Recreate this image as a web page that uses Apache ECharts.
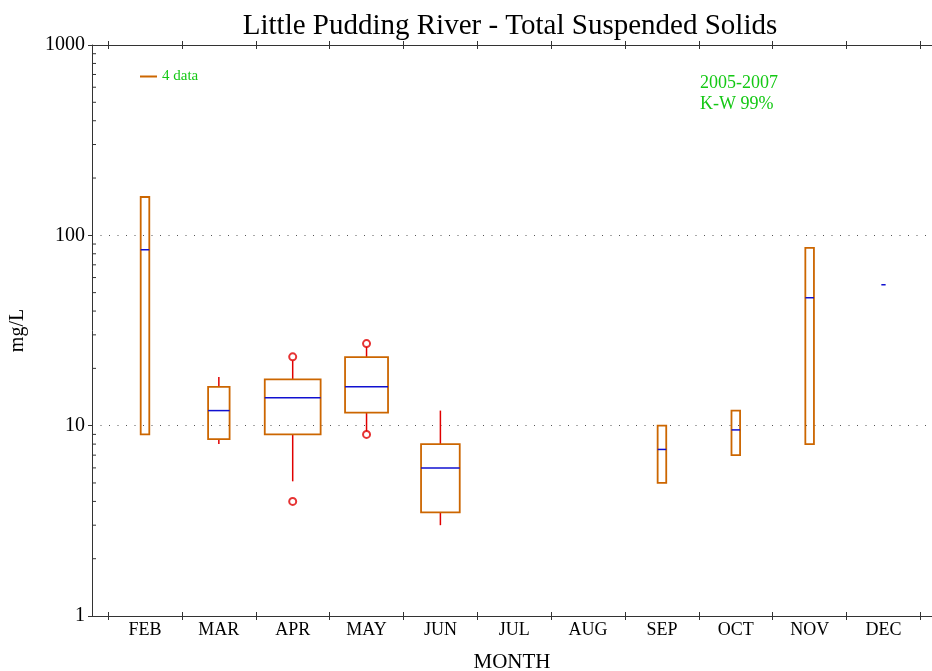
<!DOCTYPE html>
<html>
<head>
<meta charset="utf-8">
<script src="https://cdn.jsdelivr.net/npm/echarts@6/dist/echarts.min.js"></script>
<style>
html,body{margin:0;padding:0;background:#fff;}
#chart{width:932px;height:671px;}
</style>
</head>
<body>
<div id="chart"></div>
<script>
// ---- data ----
const months = ['FEB','MAR','APR','MAY','JUN','JUL','AUG','SEP','OCT','NOV','DEC'];
const counts = [2, 5, 13, 10, 9, 0, 0, 2, 2, 2, 1];
const lowWhisker  = [9,   8,   5.1, 9.3,  3,   null, null, 5,   7,   8,  55];
const q1Values    = [9,   8.5, 9,   11.7, 3.5, null, null, 5,   7,   8,  55];
const medianVals  = [84,  12,  14,  16,   6,   null, null, 7.5, 9.5, 47, 55];
const q3Values    = [159, 16,  17.5,22.9, 8,   null, null, 10,  12,  86, 55];
const highWhisker = [159, 18,  22,  26,   12,  null, null, 10,  12,  86, 55];
const outlierMonths = ['APR', 'APR', 'MAY', 'MAY'];
const outlierValues = [23, 4, 27, 9];
const yMinorTicks = [2,3,4,5,6,7,8,9,20,30,40,50,60,70,80,90,200,300,400,500,600,700,800,900];
const legendLabel = '4 data';
const titleText = 'Little Pudding River - Total Suspended Solids';
const noteLines = ['2005-2007', 'K-W 99%'];

// ---- styles ----
const SERIF = "'Liberation Serif','Times New Roman',serif";
const BOX = '#cc6600', WHISK = '#e00000', MED = '#1010d0', GREEN = '#14c814', AX = '#333';
const PER_COUNT = 0.0582;   // box width per data value, in month units
const X0 = 2;               // FEB position on the x scale
const xMin = 1.2823, xMax = 12.657;

const boxData = [];
months.forEach((m, i) => {
  if (counts[i] > 0) boxData.push([X0 + i, lowWhisker[i], q1Values[i], medianVals[i], q3Values[i], highWhisker[i], counts[i]]);
});
const outData = outlierMonths.map((m, k) => [X0 + months.indexOf(m), outlierValues[k]]);
const minorData = yMinorTicks.map(v => [xMin, v]);
const labelPos = months.map((m, i) => X0 + i);
const tickPos = months.map((m, i) => X0 + i - 0.5).concat([X0 + months.length - 0.5]);

function renderBox(params, api) {
  const x = api.value(0), lo = api.value(1), q1 = api.value(2), med = api.value(3),
        q3 = api.value(4), hi = api.value(5), n = api.value(6);
  const hw = n * PER_COUNT / 2;
  const children = [];
  const pQ1 = api.coord([x, q1]), pQ3 = api.coord([x, q3]);
  if (hi > q3) {
    const p = api.coord([x, hi]);
    children.push({type: 'line', shape: {x1: pQ3[0], y1: pQ3[1], x2: p[0], y2: p[1]}, style: {stroke: WHISK, lineWidth: 1.5}});
  }
  if (lo < q1) {
    const p = api.coord([x, lo]);
    children.push({type: 'line', shape: {x1: pQ1[0], y1: pQ1[1], x2: p[0], y2: p[1]}, style: {stroke: WHISK, lineWidth: 1.5}});
  }
  const a = api.coord([x - hw, q3]), b = api.coord([x + hw, q1]);
  if (q3 > q1) {
    children.push({type: 'rect', shape: {x: a[0], y: a[1], width: b[0] - a[0], height: b[1] - a[1]},
      style: {fill: 'none', stroke: BOX, lineWidth: 1.8}});
  }
  const m1 = api.coord([x - hw, med]), m2 = api.coord([x + hw, med]);
  children.push({type: 'line', shape: {x1: m1[0], y1: m1[1], x2: m2[0], y2: m2[1]}, style: {stroke: MED, lineWidth: 1.5}});
  return {type: 'group', children};
}

function renderMinor(params, api) {
  const p = api.coord([api.value(0), api.value(1)]);
  return {type: 'line', shape: {x1: p[0], y1: p[1], x2: p[0] + 4, y2: p[1]}, style: {stroke: AX, lineWidth: 1}};
}

function xAxisBase(extra) {
  return Object.assign({
    type: 'value', min: xMin, max: xMax, gridIndex: 0,
    splitLine: {show: false},
    axisLine: {show: false, lineStyle: {color: AX, width: 1}},
    axisLabel: {show: false},
    axisTick: {show: true, customValues: tickPos, length: 4, lineStyle: {color: AX, width: 1}}
  }, extra);
}

const chart = echarts.init(document.getElementById('chart'));
chart.setOption({
  animation: false,
  backgroundColor: '#fff',
  grid: {left: 92, right: 0, top: 45, bottom: 55, containLabel: false, outerBoundsMode: 'none'},
  legend: {
    data: [{name: legendLabel, icon: 'rect'}],
    left: 135, top: 64, itemWidth: 17, itemHeight: 2, itemGap: 5,
    textStyle: {color: GREEN, fontSize: 15, fontFamily: SERIF}
  },
  graphic: [
    {type: 'text', x: 510, y: 26, style: {text: titleText, fontSize: 29, fontFamily: SERIF, fill: '#000', align: 'center', verticalAlign: 'middle'}},
    {type: 'text', x: 700, y: 83, style: {text: noteLines[0], fontSize: 18, fontFamily: SERIF, fill: GREEN, align: 'left', verticalAlign: 'middle'}},
    {type: 'text', x: 700, y: 104, style: {text: noteLines[1], fontSize: 18, fontFamily: SERIF, fill: GREEN, align: 'left', verticalAlign: 'middle'}}
  ],
  xAxis: [
    xAxisBase({
      position: 'bottom',
      axisLine: {show: true, lineStyle: {color: AX, width: 1}},
      axisLabel: {show: true, customValues: labelPos, margin: 5, fontSize: 18, fontFamily: SERIF, color: '#000',
        formatter: v => months[Math.round(v) - X0] || ''},
      name: 'MONTH', nameLocation: 'middle', nameGap: 36,
      nameTextStyle: {fontSize: 21, fontFamily: SERIF, color: '#000'}
    }),
    xAxisBase({position: 'bottom', axisTick: {show: true, inside: true, customValues: tickPos, length: 4, lineStyle: {color: AX}}}),
    xAxisBase({position: 'top', axisLine: {show: true, lineStyle: {color: AX, width: 1}}}),
    xAxisBase({position: 'top', axisTick: {show: true, inside: true, customValues: tickPos, length: 4, lineStyle: {color: AX}}})
  ],
  yAxis: [
    {
      type: 'log', logBase: 10, min: 1, max: 1000, position: 'left',
      axisLine: {show: true, lineStyle: {color: AX, width: 1}},
      axisTick: {show: true, length: 4, lineStyle: {color: AX}},
      axisLabel: {margin: 7, fontSize: 20, fontFamily: SERIF, color: '#000', formatter: v => String(Math.round(v))},
      splitLine: {show: true, lineStyle: {color: '#555', type: [1, 7.5], width: 1}},
      name: 'mg/L', nameLocation: 'middle', nameGap: 64,
      nameTextStyle: {fontSize: 20, fontFamily: SERIF, color: '#000'}
    }
  ],
  series: [
    {
      name: legendLabel, type: 'custom', xAxisIndex: 0, yAxisIndex: 0,
      itemStyle: {color: BOX},
      encode: {x: 0, y: [1, 2, 3, 4, 5]},
      renderItem: renderBox, data: boxData, clip: true
    },
    {
      name: 'outliers', type: 'scatter', xAxisIndex: 0, yAxisIndex: 0,
      symbol: 'emptyCircle', symbolSize: 7,
      itemStyle: {color: WHISK, borderColor: WHISK, borderWidth: 1.2},
      data: outData
    },
    {
      name: 'minorTicks', type: 'custom', xAxisIndex: 0, yAxisIndex: 0,
      encode: {x: 0, y: 1}, silent: true, clip: false,
      renderItem: renderMinor, data: minorData
    }
  ]
});
</script>
</body>
</html>
